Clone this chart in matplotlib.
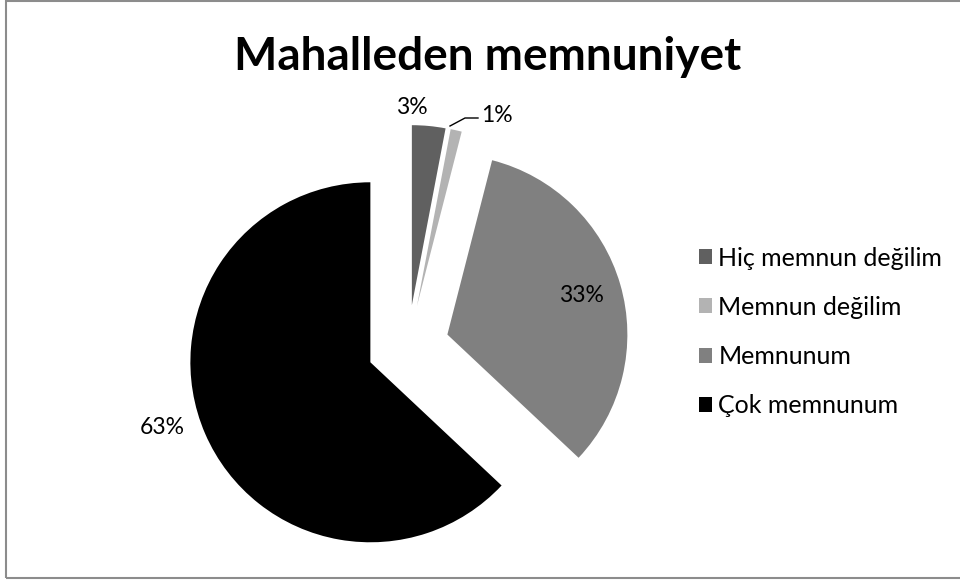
import matplotlib.pyplot as plt
from matplotlib.patches import Rectangle

# veriler
kategoriler = ["Hiç memnun değilim", "Memnun değilim", "Memnunum", "Çok memnunum"]
yuzdeler = [3, 1, 33, 63]
renkler = ["#606060", "#b3b3b3", "#808080", "#000000"]

plt.rcParams['font.family'] = ['Lato', 'DejaVu Sans']

fig = plt.figure(figsize=(9.6, 5.8), dpi=100)
ax = fig.add_axes([0, 0, 1, 1])

# pasta (piksel koordinatlari, y yukari)
merkez = (408, 580 - 346)
yaricap = 180
patlat = [41] * len(yuzdeler)  # explode burada veri biriminde
wedges, _ = ax.pie(yuzdeler, colors=renkler, startangle=90, counterclock=False,
                   radius=yaricap, center=merkez, explode=patlat,
                   wedgeprops=dict(linewidth=0))
ax.set_xlim(0, 960)
ax.set_ylim(0, 580)
ax.set_aspect('equal')
ax.axis('off')

# etiketler
fs = 16.5
ax.text(412, 580 - 108, f"{yuzdeler[0]}%", ha='center', va='center', fontsize=fs)
ax.text(497, 580 - 116, f"{yuzdeler[1]}%", ha='center', va='center', fontsize=fs)
ax.plot([450, 465, 478], [580 - 126, 580 - 118, 580 - 118], color='black', lw=1)
ax.text(581, 580 - 296, f"{yuzdeler[2]}%", ha='center', va='center', fontsize=fs)
ax.text(162, 580 - 428, f"{yuzdeler[3]}%", ha='center', va='center', fontsize=fs)

# baslik
fig.text(488 / 960, 1 - 57 / 580, "Mahalleden memnuniyet", ha='center', va='center',
         fontsize=33, fontweight='bold')

# lejant
leg = ax.legend(wedges, kategoriler, loc='upper left',
                bbox_to_anchor=(686 / 960, 1 - 234 / 580), bbox_transform=fig.transFigure,
                frameon=False, fontsize=18, handlelength=0.55, handleheight=0.55,
                handletextpad=0.25, labelspacing=1.05, borderpad=0)

# cerceve
fig.patches.append(Rectangle((6 / 960, 1 - 578 / 580), 1.0, 577 / 580, transform=fig.transFigure,
                             fill=False, edgecolor='#8c8c8c', linewidth=1.5))

fig.savefig("out.png", dpi=100)
